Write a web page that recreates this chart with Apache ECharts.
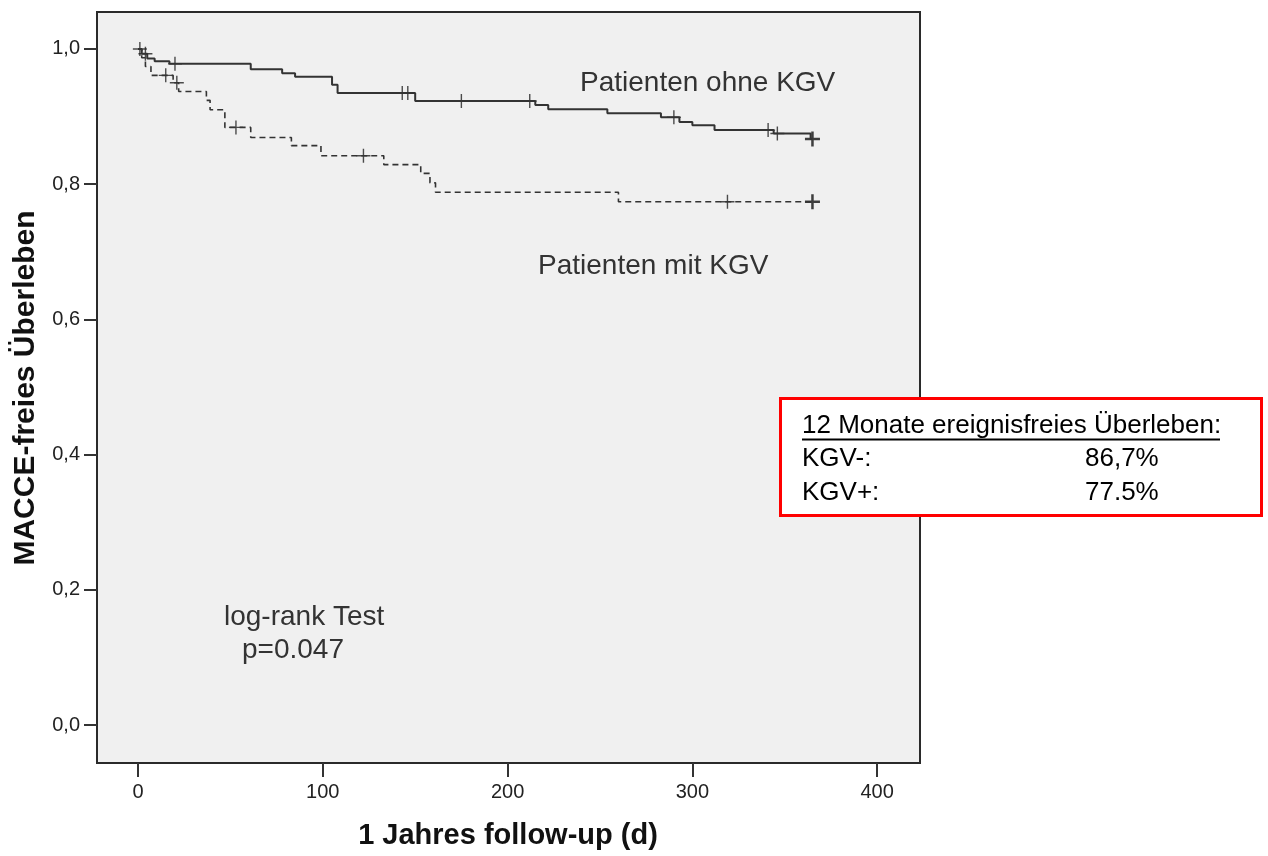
<!DOCTYPE html>
<html>
<head>
<meta charset="utf-8">
<script src="https://cdn.jsdelivr.net/npm/echarts@6/dist/echarts.min.js"></script>
<style>
html,body{margin:0;padding:0;background:#fff;}
#chart{width:1268px;height:856px;}
</style>
</head>
<body>
<div id="chart"></div>
<script>
// Kaplan-Meier: Patienten ohne KGV (solid)
const solidTimes = [0, 2, 5, 9, 17, 61, 78, 85, 105, 108, 150, 215, 222, 254, 283, 293, 300, 312, 344, 364, 365];
const solidSurv  = [1.0, 0.993, 0.986, 0.982, 0.978, 0.970, 0.964, 0.959, 0.947, 0.935, 0.923, 0.917, 0.911, 0.905, 0.899, 0.892, 0.887, 0.880, 0.875, 0.867, 0.867];
const solidCensTimes = [1, 4, 20, 143, 146, 175, 212, 290, 341, 346];
const solidCensSurv  = [1.0, 0.993, 0.978, 0.935, 0.935, 0.923, 0.923, 0.899, 0.880, 0.875];
const solidEnd = [[365, 0.867]];

// Patienten mit KGV (dashed)
const dashTimes = [0, 2, 4, 7, 19, 22, 37, 39, 47, 61, 83, 99, 133, 153, 158, 161, 260, 365];
const dashSurv  = [1.0, 0.987, 0.974, 0.961, 0.950, 0.937, 0.924, 0.910, 0.884, 0.869, 0.857, 0.842, 0.829, 0.816, 0.802, 0.788, 0.774, 0.774];
const dashCensTimes = [15, 21, 53, 122, 319];
const dashCensSurv  = [0.961, 0.950, 0.884, 0.842, 0.774];
const dashEnd = [[365, 0.774]];

const xTicks = [0, 100, 200, 300, 400];
const yTicks = [0, 0.2, 0.4, 0.6, 0.8, 1.0];

const zip = (a, b) => a.map((v, i) => [v, b[i]]);
const FONT = '"Liberation Sans", Arial, sans-serif';
const cross = 'path://M10.8,0H13.2V10.8H24V13.2H13.2V24H10.8V13.2H0V10.8H10.8Z';
const boldCross = 'path://M10,0H14V10H24V14H14V24H10V14H0V10H10Z';

const chart = echarts.init(document.getElementById('chart'), null, {renderer: 'canvas'});
chart.setOption({
  backgroundColor: '#ffffff',
  animation: false,
  grid: {left: 97, top: 12, right: 348, bottom: 93, show: true,
         backgroundColor: '#f0f0f0', borderColor: '#2a2a2a', borderWidth: 2},
  xAxis: {
    type: 'value', min: -22.2, max: 423.2,
    axisLine: {show: false, onZero: false},
    splitLine: {show: false},
    axisTick: {show: true, length: 14, inside: false, customValues: xTicks,
               lineStyle: {color: '#333', width: 2}},
    axisLabel: {customValues: xTicks, margin: 19, color: '#222', fontSize: 20, fontFamily: FONT}
  },
  yAxis: {
    type: 'value', min: -0.0562, max: 1.0547,
    axisLine: {show: false, onZero: false},
    splitLine: {show: false},
    axisTick: {show: true, length: 13, customValues: yTicks,
               lineStyle: {color: '#333', width: 2}},
    axisLabel: {customValues: yTicks, margin: 17, color: '#222', fontSize: 20, fontFamily: FONT,
                formatter: v => v.toFixed(1).replace('.', ',')}
  },
  series: [
    {type: 'line', step: 'end', data: zip(solidTimes, solidSurv), showSymbol: false,
     lineStyle: {color: '#333', width: 2}},
    {type: 'line', step: 'end', data: zip(dashTimes, dashSurv), showSymbol: false,
     lineStyle: {color: '#333', width: 1.6, type: [6, 4]}},
    {type: 'scatter', data: zip(solidCensTimes, solidCensSurv), symbol: cross, symbolSize: 14,
     itemStyle: {color: '#222'}},
    {type: 'scatter', data: zip(dashCensTimes, dashCensSurv), symbol: cross, symbolSize: 14,
     itemStyle: {color: '#222'}},
    {type: 'scatter', data: solidEnd.concat(dashEnd), symbol: boldCross, symbolSize: 15,
     itemStyle: {color: '#111'}}
  ],
  graphic: [
    {type: 'text', x: 26, y: 388, rotation: Math.PI / 2,
     style: {text: 'MACCE-freies Überleben', font: 'bold 30px ' + FONT, fill: '#111',
             align: 'center', verticalAlign: 'middle'}},
    {type: 'text', x: 508, y: 836,
     style: {text: '1 Jahres follow-up (d)', font: 'bold 29px ' + FONT, fill: '#111',
             align: 'center', verticalAlign: 'middle'}},
    {type: 'text', x: 580, y: 83,
     style: {text: 'Patienten ohne KGV', font: '28px ' + FONT, fill: '#333', verticalAlign: 'middle'}},
    {type: 'text', x: 538, y: 266,
     style: {text: 'Patienten mit KGV', font: '28px ' + FONT, fill: '#333', verticalAlign: 'middle'}},
    {type: 'text', x: 224, y: 617,
     style: {text: 'log-rank Test', font: '28px ' + FONT, fill: '#333', verticalAlign: 'middle'}},
    {type: 'text', x: 242, y: 650,
     style: {text: 'p=0.047', font: '28px ' + FONT, fill: '#333', verticalAlign: 'middle'}},
    {type: 'rect', shape: {x: 780.5, y: 398.5, width: 481, height: 117},
     style: {fill: '#ffffff', stroke: '#ff0000', lineWidth: 3}},
    {type: 'text', x: 802, y: 426,
     style: {text: '12 Monate ereignisfreies Überleben:', font: '26px ' + FONT, fill: '#000', verticalAlign: 'middle'}},
    {type: 'line', shape: {x1: 802, y1: 439.5, x2: 1220, y2: 439.5}, style: {stroke: '#000', lineWidth: 2}},
    {type: 'text', x: 802, y: 459,
     style: {text: 'KGV-:', font: '26px ' + FONT, fill: '#000', verticalAlign: 'middle'}},
    {type: 'text', x: 1085, y: 459,
     style: {text: '86,7%', font: '26px ' + FONT, fill: '#000', verticalAlign: 'middle'}},
    {type: 'text', x: 802, y: 493,
     style: {text: 'KGV+:', font: '26px ' + FONT, fill: '#000', verticalAlign: 'middle'}},
    {type: 'text', x: 1085, y: 493,
     style: {text: '77.5%', font: '26px ' + FONT, fill: '#000', verticalAlign: 'middle'}}
  ]
});
</script>
</body>
</html>
